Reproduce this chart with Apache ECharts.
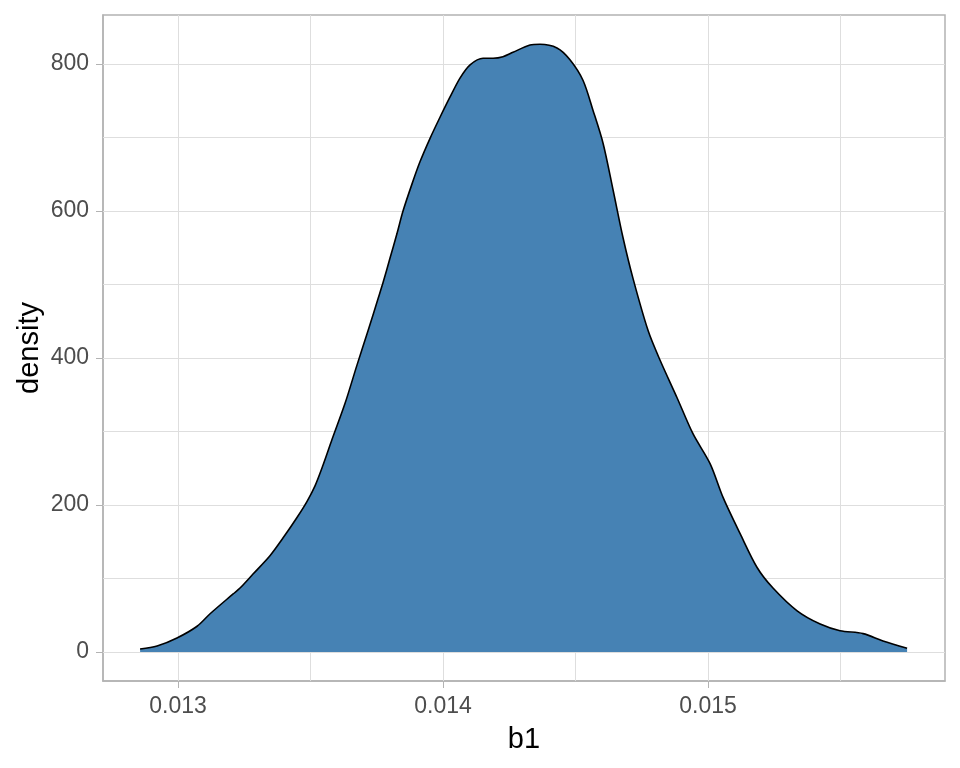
<!DOCTYPE html>
<html>
<head>
<meta charset="utf-8">
<script src="https://cdn.jsdelivr.net/npm/echarts@6/dist/echarts.min.js"></script>
<style>html,body{margin:0;padding:0;background:#fff}#c{width:960px;height:768px}</style>
</head>
<body>
<div id="c"></div>
<script>
// b1 values (x) and estimated density (y)
const bValues = [0.012857,0.012921,0.012996,0.013072,0.013121,0.013208,0.013234,0.013283,0.013347,0.013396,
  0.013449,0.013487,0.013517,0.013547,0.013581,0.013630,0.013675,0.013717,0.013755,0.013774,
  0.013800,0.013826,0.013849,0.013883,0.013913,0.013951,0.013989,0.014026,0.014064,0.014102,
  0.014151,0.014189,0.014226,0.014264,0.014328,0.014366,0.014430,0.014479,0.014528,0.014566,
  0.014604,0.014642,0.014679,0.014717,0.014774,0.014819,0.014883,0.014943,0.015008,0.015057,
  0.015121,0.015185,0.015245,0.015336,0.015423,0.015498,0.015585,0.015660,0.015751];
const densityValues = [4,8,19,35,52,79,87,106,131,155,
  183,205,226,254,289,338,390,437,481,503,
  536,569,600,637,667,699,728,755,781,799,
  808,808,810,816,826,827,822,806,778,737,
  692,628,564,508,437,397,346,297,256,210,
  161,115,87,56,38,29,25,15,5];
const xTickValues = [0.013, 0.014, 0.015];
const xMinorGrid = [0.0135, 0.0145, 0.0155];
const yTickValues = [0, 200, 400, 600, 800];
const yMinorGrid = [100, 300, 500, 700];
const xRange = [0.012717, 0.015894];
const yRange = [-39.5, 866.8];
const xTitle = 'b1';
const yTitle = 'density';

const chart = echarts.init(document.getElementById('c'), null, {renderer: 'canvas'});
const gridColor = '#dedede';
const axisGray = '#b3b3b3';
const fontFam = '"Liberation Sans", Arial, sans-serif';

const vLines = xTickValues.concat(xMinorGrid).map(v => [{coord: [v, yRange[0]]}, {coord: [v, yRange[1]]}]);
const hLines = yTickValues.concat(yMinorGrid).map(v => [{coord: [xRange[0], v]}, {coord: [xRange[1], v]}]);

const pts = bValues.map((b, i) => [b, densityValues[i]]);

chart.setOption({
  animation: false,
  backgroundColor: '#ffffff',
  grid: {left: 103, right: 15, top: 15, bottom: 87, show: true, borderColor: axisGray, borderWidth: 1.5, backgroundColor: '#ffffff'},
  xAxis: {
    type: 'value', min: xRange[0], max: xRange[1],
    name: xTitle, nameLocation: 'middle', nameGap: 44, nameMoveOverlap: false,
    nameTextStyle: {color: '#000', fontSize: 29, fontFamily: fontFam},
    axisLine: {show: true, onZero: false, lineStyle: {color: axisGray, width: 1.5}},
    axisTick: {show: true, length: 7, customValues: xTickValues, lineStyle: {color: axisGray, width: 1}},
    axisLabel: {customValues: xTickValues, margin: 14, color: '#4d4d4d', fontSize: 23, fontFamily: fontFam,
      formatter: v => Number(v).toFixed(3)},
    splitLine: {show: false}
  },
  yAxis: {
    type: 'value', min: yRange[0], max: yRange[1],
    name: yTitle, nameLocation: 'middle', nameGap: 59, nameMoveOverlap: false,
    nameTextStyle: {color: '#000', fontSize: 29, fontFamily: fontFam},
    axisLine: {show: true, onZero: false, lineStyle: {color: axisGray, width: 1.5}},
    axisTick: {show: true, length: 7, customValues: yTickValues, lineStyle: {color: axisGray, width: 1}},
    axisLabel: {customValues: yTickValues, margin: 14, color: '#4d4d4d', fontSize: 23, fontFamily: fontFam,
      formatter: v => String(Math.round(v))},
    splitLine: {show: false}
  },
  series: [
    {
      type: 'line', z: 1, silent: true, data: pts, symbol: 'none',
      lineStyle: {opacity: 0},
      markLine: {z: 1, silent: true, symbol: 'none', animation: false, label: {show: false},
        lineStyle: {color: gridColor, width: 1, type: 'solid'}, data: vLines.concat(hLines)}
    },
    {
      type: 'line', z: 3, data: pts, symbol: 'none', smooth: 0.3,
      lineStyle: {color: '#000000', width: 1.6},
      areaStyle: {color: '#4682b4', opacity: 1}
    }
  ]
});
</script>
</body>
</html>
